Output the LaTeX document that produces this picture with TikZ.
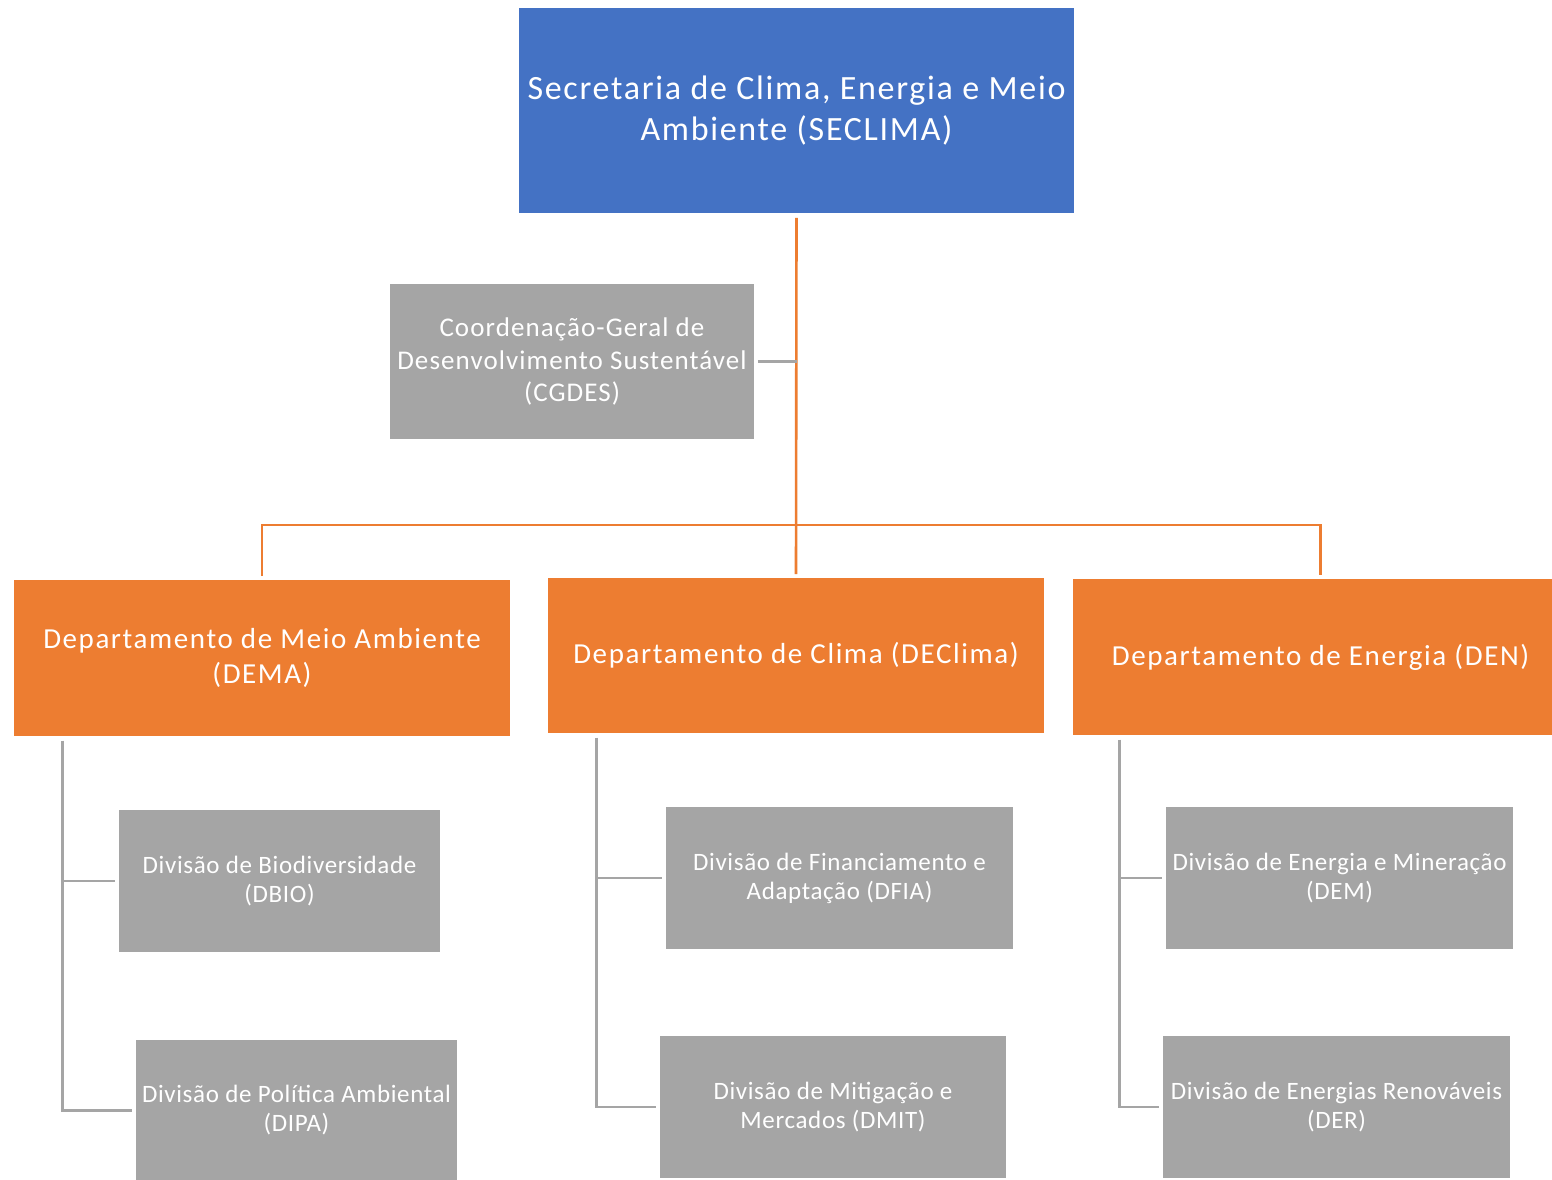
\documentclass[tikz,border=0pt]{standalone}
\usepackage{fontspec}
\setmainfont{Carlito}
\newfontfamily\fonttop[LetterSpace=5]{Carlito}
\newfontfamily\fontdept[LetterSpace=5.5]{Carlito}
\newfontfamily\fontcoord[LetterSpace=4]{Carlito}
\newfontfamily\fontdiv[LetterSpace=2.6]{Carlito}
\definecolor{cblue}{HTML}{4472C4}
\definecolor{corange}{HTML}{ED7D31}
\definecolor{cgray}{HTML}{A5A5A5}
\tikzset{
  boxbase/.style={rectangle, inner sep=0pt, text=white, align=center, draw=white, line width=0.6pt},
  topbox/.style={boxbase, fill=cblue, font=\fonttop\fontsize{34}{41}\selectfont},
  deptbox/.style={boxbase, fill=corange, font=\fontdept\fontsize{29}{35}\selectfont},
  coordbox/.style={boxbase, fill=cgray, font=\fontcoord\fontsize{27}{32.5}\selectfont},
  divbox/.style={boxbase, fill=cgray, font=\fontdiv\fontsize{25}{29}\selectfont},
  orangeline/.style={draw=corange, line width=2.6pt},
  grayline/.style={draw=cgray, line width=2.6pt},
}
\begin{document}
\begin{tikzpicture}[x=1pt,y=-1pt]
\clip (0,0) rectangle (1552,1179);
\fill[white] (0,0) rectangle (1552,1179);

\node[topbox, minimum width=556pt, minimum height=206pt] (sec) at (796.5,110.5)
  {Secretaria de Clima, Energia e Meio\\Ambiente (SECLIMA)};

\node[coordbox, minimum width=365pt, minimum height=156pt] (cg) at (572,361.5)
  {Coordenação-Geral de\\Desenvolvimento Sustentável\\(CGDES)};

\node[deptbox, minimum width=497pt, minimum height=157pt] (dema) at (262,658)
  {Departamento de Meio Ambiente\\(DEMA)};
\node[deptbox, minimum width=497pt, minimum height=156pt] (decl) at (796,655.5)
  {Departamento de Clima (DEClima)};
\node[deptbox, minimum width=497pt, minimum height=157pt] (den) at (1320.5,657)
  {Departamento de Energia (DEN)};

\node[divbox, minimum width=322pt, minimum height=143pt] (dbio) at (279.5,881)
  {Divisão de Biodiversidade\\(DBIO)};
\node[divbox, minimum width=322pt, minimum height=143pt] (dipa) at (296.5,1110.5)
  {Divisão de Política Ambiental\\(DIPA)};
\node[divbox, minimum width=348pt, minimum height=143pt] (dfia) at (839.5,878)
  {Divisão de Financiamento e\\Adaptação (DFIA)};
\node[divbox, minimum width=347pt, minimum height=143pt] (dmit) at (833,1107)
  {Divisão de Mitigação e\\Mercados (DMIT)};
\node[divbox, minimum width=348pt, minimum height=143pt] (dem) at (1339.5,878)
  {Divisão de Energia e Mineração\\(DEM)};
\node[divbox, minimum width=348pt, minimum height=143pt] (der) at (1336.5,1107)
  {Divisão de Energias Renováveis\\(DER)};

% orange hierarchy
\coordinate (bus) at (797,525);
\draw[orangeline] ([yshift=-4pt]sec.south) -- ([yshift=3pt]decl.north);
\draw[orangeline] ([yshift=3pt]dema.north) |- (bus) -| ([yshift=3pt]den.north);
\draw[grayline] ([xshift=3pt]cg.east) -- (cg.east -| sec.south);

% gray trunks
\coordinate (t1) at ([xshift=49pt,yshift=-4pt]dema.south west);
\draw[grayline] (t1) |- ([xshift=-3pt]dbio.west);
\draw[grayline] (t1) |- ([xshift=-3pt]dipa.west);
\coordinate (t2) at ([xshift=49pt,yshift=-4pt]decl.south west);
\draw[grayline] (t2) |- ([xshift=-3pt]dfia.west);
\draw[grayline] (t2) |- ([xshift=-3pt]dmit.west);
\coordinate (t3) at ([xshift=48pt,yshift=-4pt]den.south west);
\draw[grayline] (t3) |- ([xshift=-3pt]dem.west);
\draw[grayline] (t3) |- ([xshift=-3pt]der.west);
\end{tikzpicture}
\end{document}
